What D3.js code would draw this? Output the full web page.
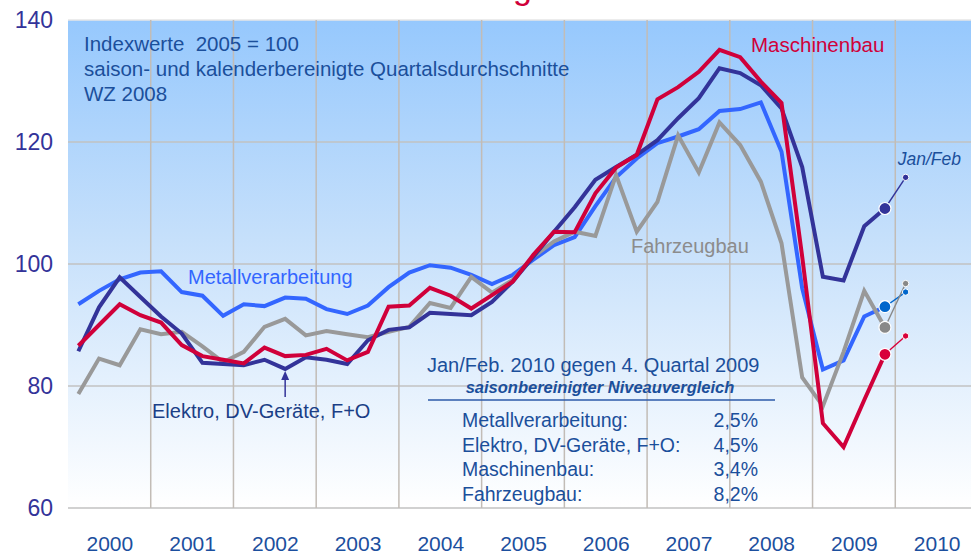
<!DOCTYPE html>
<html><head><meta charset="utf-8">
<script src="https://cdn.jsdelivr.net/npm/d3@7"></script>
<style>
html,body{margin:0;padding:0;background:#fff;}
svg{display:block;font-family:"Liberation Sans",Arial,sans-serif;}
</style></head>
<body>
<svg id="chart" width="971" height="554"></svg>
<script>
// ---- data ----
const years = ["2000","2001","2002","2003","2004","2005","2006","2007","2008","2009","2010"];
const yTicks = [60, 80, 100, 120, 140];
// quarterly averages 2000Q1 .. 2009Q4
const metall = [93.4,95.6,97.5,98.6,98.8,95.4,94.8,91.5,93.4,93.1,94.5,94.3,92.6,91.8,93.2,96.2,98.6,99.8,99.4,98.2,96.7,98.2,100.7,103.1,104.4,109.5,114.2,117.3,119.8,120.9,122.1,125.1,125.4,126.5,118.4,96.0,82.7,84.2,91.4,93.0];
const elektro = [85.7,92.9,97.8,94.6,91.4,88.6,83.8,83.6,83.4,84.3,82.8,84.7,84.3,83.6,87.5,89.2,89.6,92.0,91.8,91.6,93.8,97.1,101.2,105.3,109.3,113.8,115.9,117.9,120.3,123.9,127.2,132.1,131.3,129.3,125.5,115.9,97.9,97.3,106.2,109.1];
const masch = [86.6,90.0,93.4,91.6,90.4,86.7,84.9,84.3,83.7,86.3,84.9,85.1,86.1,84.2,85.6,93.0,93.2,96.1,94.8,92.7,94.9,97.1,101.5,105.3,105.2,111.6,115.8,117.9,127.0,129.0,131.5,135.1,133.9,129.9,126.4,101.2,73.9,70.0,77.7,85.2];
const fahr = [78.7,84.5,83.4,89.3,88.5,88.9,86.5,83.9,85.6,89.7,91.0,88.3,89.0,88.5,88.0,88.9,89.7,93.6,92.8,97.9,95.3,97.4,101.2,103.7,105.3,104.6,114.6,105.3,110.2,121.1,115.0,123.2,119.5,113.5,103.4,81.4,76.7,85.6,95.6,89.6];
// Jan/Feb 2010
const janFeb = {metall: 95.4, elektro: 114.2, masch: 88.2, fahr: 96.8};
const compareLabels = ["Metallverarbeitung:", "Elektro, DV-Geräte, F+O:", "Maschinenbau:", "Fahrzeugbau:"];
const compareValues = ["2,5%", "4,5%", "3,4%", "8,2%"];

// ---- layout ----
const svg = d3.select("#chart");
const x = d3.scaleLinear().domain([2000, 2011]).range([68, 978]);
const y = d3.scaleLinear().domain([60, 140]).range([508, 20]);
const qx = i => x(2000 + (i + 0.5) / 4);

const defs = svg.append("defs");
const grad = defs.append("linearGradient").attr("id","bg").attr("x1",0).attr("y1",0).attr("x2",0).attr("y2",1);
grad.append("stop").attr("offset","0%").attr("stop-color","#96c8fd");
grad.append("stop").attr("offset","45%").attr("stop-color","#c6e0fb");
grad.append("stop").attr("offset","100%").attr("stop-color","#ffffff");

// title (cut off at the top edge in the original; only the descender of its "g" is visible)
svg.append("text").attr("x", 532).attr("y", -1.5).attr("text-anchor","end")
  .attr("font-size", 34).attr("fill", "#d0003a").text("Produktionsentwicklung");

svg.append("rect").attr("x", x(2000)).attr("y", y(140)).attr("width", 971 - x(2000)).attr("height", y(60) - y(140))
  .attr("fill", "url(#bg)");

// gridlines
svg.append("g").selectAll("line").data(yTicks).join("line")
  .attr("x1", x(2000)).attr("x2", 971).attr("y1", d => y(d)).attr("y2", d => y(d))
  .attr("stroke", d => d === 140 ? "#e6e6e6" : "#c2c2c2").attr("stroke-width", 1.5);
svg.append("g").selectAll("line").data(d3.range(2001, 2011)).join("line")
  .attr("x1", d => x(d)).attr("x2", d => x(d)).attr("y1", y(140)).attr("y2", y(60))
  .attr("stroke", "#c2bcb6").attr("stroke-width", 1.5);

// axes
const yAxis = svg.append("g").attr("transform", "translate(53,0)")
  .call(d3.axisLeft(y).tickValues(yTicks).tickSize(0).tickPadding(0));
yAxis.select(".domain").remove();
yAxis.selectAll("text").attr("font-size", 23).attr("fill", "#333399")
  .attr("font-family", "Liberation Sans, Arial, sans-serif");

const xAxis = svg.append("g").attr("transform", "translate(0,536)")
  .call(d3.axisBottom(d3.scalePoint().domain(years).range([x(2000.5), x(2010.5)])).tickSize(0).tickPadding(0));
xAxis.select(".domain").remove();
xAxis.selectAll("text").attr("font-size", 21).attr("fill", "#1c4f9e")
  .attr("font-family", "Liberation Sans, Arial, sans-serif");

// series
const series = [
  {key:"metall", vals: metall, color:"#3366ff", dot:"#0066cc"},
  {key:"fahr", vals: fahr, color:"#999999", dot:"#888888"},
  {key:"elektro", vals: elektro, color:"#333399", dot:"#333399"},
  {key:"masch", vals: masch, color:"#d0003a", dot:"#d8003a"}
];
const line = d3.line().x((d, i) => qx(i)).y(d => y(d));
const gL = svg.append("g");
series.forEach(s => {
  gL.append("path").attr("d", line(s.vals)).attr("fill","none").attr("stroke", s.color)
    .attr("stroke-width", 4).attr("stroke-linejoin","miter");
});
series.forEach(s => {
  const last = s.vals.length - 1;
  gL.append("line").attr("x1", qx(last)).attr("y1", y(s.vals[last]))
    .attr("x2", qx(last+1)).attr("y2", y(janFeb[s.key])).attr("stroke", s.dot).attr("stroke-width", 1.4);
});
series.forEach(s => {
  const last = s.vals.length - 1;
  gL.append("circle").attr("cx", qx(last)).attr("cy", y(s.vals[last])).attr("r", 6)
    .attr("fill", s.dot).attr("stroke", "#fff").attr("stroke-width", 1.2);
  gL.append("circle").attr("cx", qx(last+1)).attr("cy", y(janFeb[s.key])).attr("r", 3.2)
    .attr("fill", s.dot).attr("stroke", "#fff").attr("stroke-width", 1);
});

// annotations
const note = svg.append("g").attr("fill", "#1b4f9b").attr("font-size", 20.5);
["Indexwerte  2005 = 100", "saison- und kalenderbereinigte Quartalsdurchschnitte", "WZ 2008"].forEach((t, i) => {
  note.append("text").attr("x", 84).attr("y", 51 + i * 25).attr("xml:space","preserve").style("white-space","pre").text(t);
});
svg.append("text").attr("x", 751).attr("y", 52).attr("font-size", 20.5).attr("fill", "#d0003a").text("Maschinenbau");
svg.append("text").attr("x", 188).attr("y", 284).attr("font-size", 20).attr("fill", "#3366ff").text("Metallverarbeitung");
svg.append("text").attr("x", 631).attr("y", 253).attr("font-size", 20).attr("fill", "#8c8c8c").text("Fahrzeugbau");
svg.append("text").attr("x", 152).attr("y", 418).attr("font-size", 20).attr("fill", "#1b3f86").text("Elektro, DV-Geräte, F+O");
svg.append("text").attr("x", 961).attr("y", 165).attr("text-anchor","end").attr("font-size", 17.5)
  .attr("font-style","italic").attr("fill", "#1b4f9b").text("Jan/Feb");

// arrow to Elektro line
const ax = qx(10);
svg.append("line").attr("x1", ax).attr("x2", ax).attr("y1", 397).attr("y2", 378).attr("stroke", "#333399").attr("stroke-width", 1.5);
svg.append("path").attr("d", `M${ax},${y(elektro[10]) + 2} l-4,9 l8,0 z`).attr("fill", "#333399");

// comparison box
const box = svg.append("g").attr("fill", "#1b4f9b");
box.append("text").attr("x", 427).attr("y", 372).attr("font-size", 20).text("Jan/Feb. 2010 gegen 4. Quartal 2009");
box.append("text").attr("x", 600).attr("y", 393).attr("text-anchor","middle").attr("font-size", 16.5)
  .attr("font-weight","bold").attr("font-style","italic").text("saisonbereinigter Niveauvergleich");
svg.append("line").attr("x1", 428).attr("x2", 775).attr("y1", 400).attr("y2", 400).attr("stroke", "#2c5aa8").attr("stroke-width", 1.5);
compareLabels.forEach((t, i) => {
  box.append("text").attr("x", 462).attr("y", 427 + i * 24.7).attr("font-size", 19.5).text(t);
  box.append("text").attr("x", 758).attr("y", 427 + i * 24.7).attr("text-anchor","end").attr("font-size", 19.5).text(compareValues[i]);
});
</script>
</body></html>
